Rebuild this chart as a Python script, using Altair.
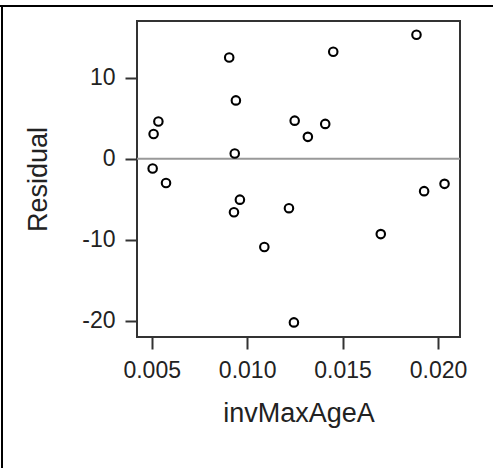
import altair as alt
import pandas as pd

inv_max_age = [0.00505, 0.00510, 0.00535, 0.00575, 0.00906, 0.00941, 0.00935,
               0.00962, 0.00931, 0.01090, 0.01219, 0.01249, 0.01318, 0.01409,
               0.01451, 0.01245, 0.01700, 0.01887, 0.01927, 0.02034]
residual = [-1.2, 3.05, 4.6, -3.0, 12.5, 7.2, 0.65, -5.05, -6.6, -10.9,
            -6.1, 4.7, 2.7, 4.3, 13.2, -20.2, -9.3, 15.3, -4.0, -3.1]
x_ticks = [0.005, 0.010, 0.015, 0.020]
y_ticks = [-20, -10, 0, 10]

df = pd.DataFrame({"invMaxAgeA": inv_max_age, "Residual": residual})
zero_df = pd.DataFrame({"y": [0]})

FONT = "Liberation Sans"

x_enc = alt.X("invMaxAgeA:Q",
              scale=alt.Scale(domain=[0.00423, 0.02115], nice=False, zero=False),
              axis=alt.Axis(values=x_ticks, format=".3f", title="invMaxAgeA"))
y_enc = alt.Y("Residual:Q",
              scale=alt.Scale(domain=[-22, 17], nice=False, zero=False),
              axis=alt.Axis(values=y_ticks, labelExpr="toString(datum.value)",
                            title="Residual"))

zero_line = alt.Chart(zero_df).mark_rule(color="#999999", strokeWidth=2).encode(
    y=alt.Y("y:Q", scale=alt.Scale(domain=[-22, 17], nice=False, zero=False))
)

points = alt.Chart(df).mark_point(
    shape="circle", filled=False, color="black", size=72, strokeWidth=2.1, opacity=1
).encode(x=x_enc, y=y_enc)

top_border = alt.Chart(zero_df).mark_rule(color="black", strokeWidth=2).encode(
    x=alt.value(-137), x2=alt.value(356), y=alt.value(-15)
)
left_border = alt.Chart(zero_df).mark_rule(color="black", strokeWidth=2).encode(
    x=alt.value(-135), y=alt.value(-16), y2=alt.value(447)
)

chart = alt.layer(zero_line, points, top_border, left_border).properties(
    width=323, height=316,
    autosize=alt.AutoSizeParams(type="none"),
    padding={"left": 137, "top": 21, "right": 33, "bottom": 131},
).configure_view(
    stroke="#333333", strokeWidth=2
).configure_axis(
    domain=False, grid=False,
    tickColor="#333333", tickWidth=2, tickSize=12,
    labelFont=FONT, labelFontSize=23, labelColor="#222222", labelPadding=10,
    titleFont=FONT, titleFontSize=27, titleFontWeight="normal", titleColor="#222222",
).configure_axisX(
    titlePadding=18
).configure_axisY(
    titlePadding=29
)

chart.save("out.html", embed_options={"renderer": "svg", "actions": False})
